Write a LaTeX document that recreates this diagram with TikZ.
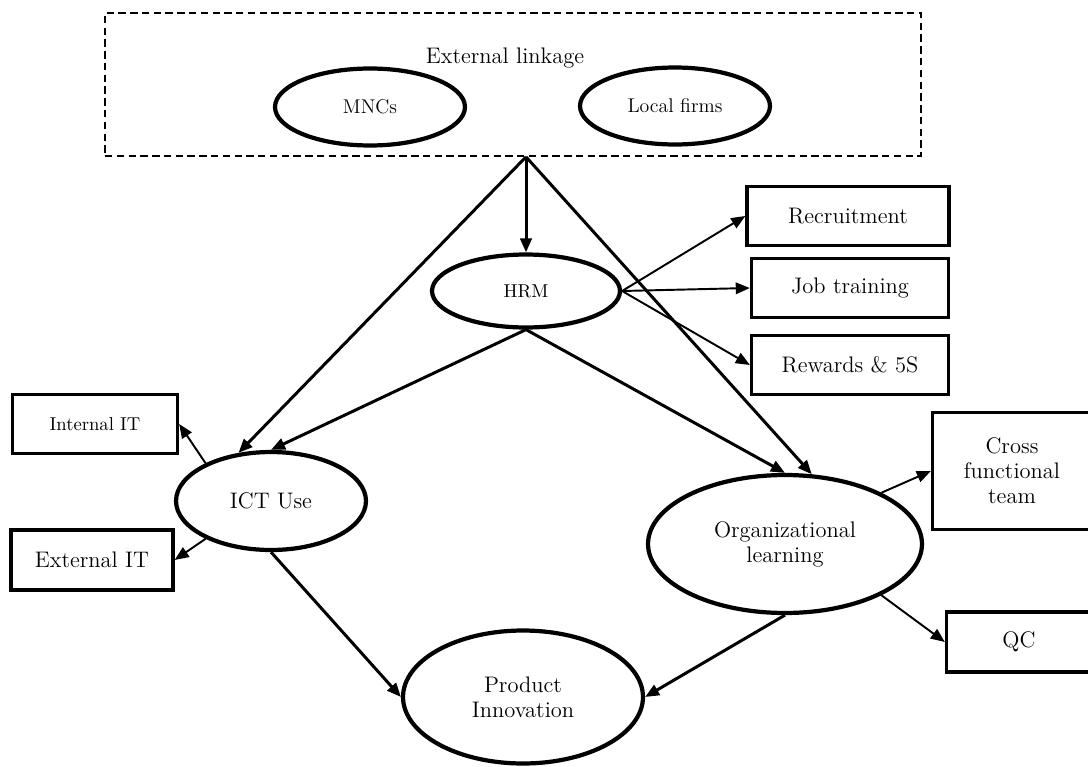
\documentclass[tikz,border=0pt]{standalone}
\usepackage{amsmath}
\usepackage{xcolor}
\usetikzlibrary{shapes.geometric,arrows.meta}

\begin{document}
\begin{tikzpicture}[x=0.02cm,y=-0.02cm,
    bigtxt/.style={font=\fontsize{12.8}{14.3}\selectfont},
    midtxt/.style={font=\fontsize{11.3}{13}\selectfont},
    smalltxt/.style={font=\fontsize{10.6}{12}\selectfont},
    oval/.style={ellipse,draw,line width=2.4pt,inner sep=0pt,align=center},
    box/.style={rectangle,draw,line width=1.9pt,inner sep=0pt,align=center},
    link/.style={-{Triangle[length=8pt,width=6.5pt]},line width=1.7pt},
    thinlink/.style={-{Triangle[length=8pt,width=6.5pt]},line width=1.1pt}]
    \useasboundingbox (0,0) rectangle (1088,767);

    % External linkage block
    \node[draw,dash pattern=on 4.2pt off 2.5pt,line width=1pt,
          minimum width=16.32cm,minimum height=2.86cm] (extbox) at (513,84.5) {};
    \node[bigtxt] (extlabel) at (505,58) {External linkage};
    \node[oval,midtxt,minimum width=3.8cm,minimum height=1.54cm] (mnc) at (370,107) {MNCs};
    \node[oval,midtxt,minimum width=3.8cm,minimum height=1.54cm] (local) at (675,106) {Local firms};

    % Main constructs
    \node[oval,smalltxt,minimum width=3.76cm,minimum height=1.46cm] (hrm) at (526,291) {HRM};
    \node[oval,bigtxt,minimum width=3.8cm,minimum height=1.96cm] (ict) at (271,501) {ICT Use};
    \node[oval,bigtxt,minimum width=5.48cm,minimum height=2.76cm] (orglearn) at (785,544) {Organizational\\learning};
    \node[oval,bigtxt,minimum width=4.8cm,minimum height=2.66cm] (prodinn) at (523,697) {Product\\Innovation};

    % HRM practices
    \node[box,bigtxt,minimum width=4.04cm,minimum height=1.18cm] (recruit) at (848,216) {Recruitment};
    \node[box,bigtxt,minimum width=3.94cm,minimum height=1.18cm] (jobtrain) at (850,288) {Job training};
    \node[box,bigtxt,minimum width=3.94cm,minimum height=1.18cm] (rewards) at (850,365) {Rewards \& 5S};

    % IT types
    \node[box,smalltxt,minimum width=3.3cm,minimum height=1.18cm] (intit) at (95,424) {Internal IT};
    \node[box,bigtxt,minimum width=3.24cm,minimum height=1.2cm] (extit) at (92,560) {External IT};

    % Learning practices
    \node[box,bigtxt,minimum width=3.18cm,minimum height=2.34cm] (cft) at (1012,471) {Cross\\functional\\team};
    \node[box,bigtxt,minimum width=2.9cm,minimum height=1.2cm] (qc) at (1019,642) {QC};

    \coordinate (apex) at (hrm |- extbox.south);

    % Links
    \draw[link] (apex) -- (hrm.north);
    \draw[link] (apex) -- (ict.124);
    \draw[link] (apex) -- (orglearn.69);
    \draw[link] (hrm.south) -- (ict.north);
    \draw[link] (hrm.south) -- (orglearn.north);
    \draw[thinlink] (hrm.east) -- (recruit.west);
    \draw[thinlink] (hrm.east) -- (jobtrain.west);
    \draw[thinlink] (hrm.east) -- (rewards.west);
    \draw[thinlink] (ict.150) -- (intit.east);
    \draw[thinlink] (ict.210) -- (extit.east);
    \draw[link] (ict.south) -- (prodinn.west);
    \draw[link] (orglearn.south) -- (prodinn.east);
    \draw[thinlink] (orglearn.28) -- (cft.west);
    \draw[thinlink] (orglearn.332) -- (qc.west);
\end{tikzpicture}
\end{document}
